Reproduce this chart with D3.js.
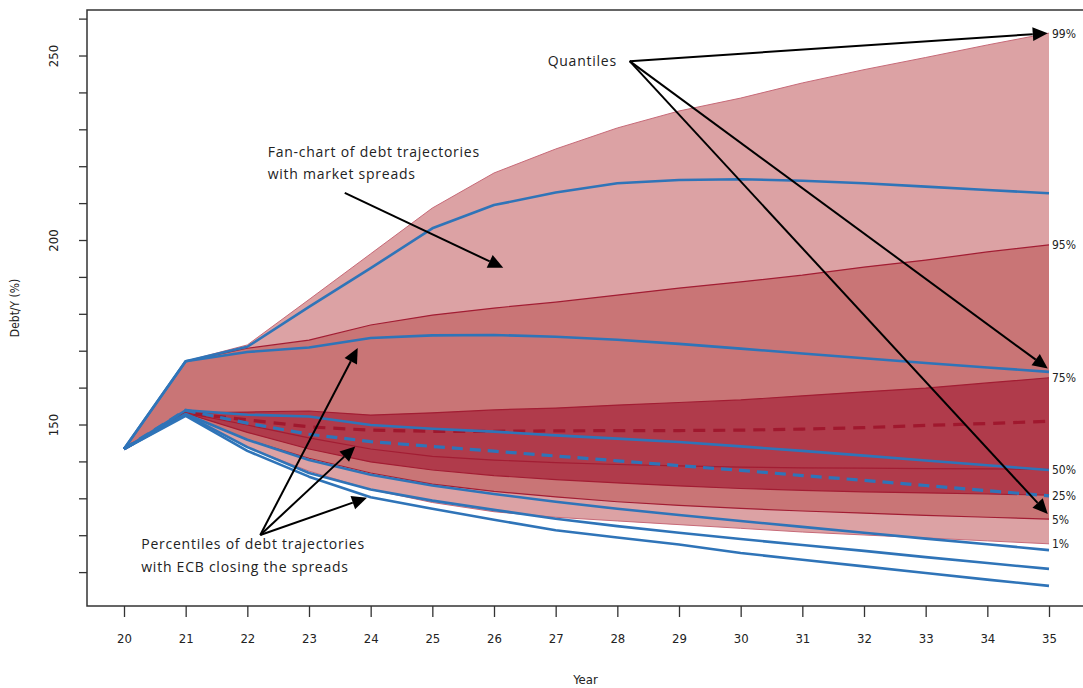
<!DOCTYPE html>
<html>
<head>
<meta charset="utf-8">
<script src="https://cdn.jsdelivr.net/npm/d3@7"></script>
<style>
  html, body { margin: 0; padding: 0; background: #fff; }
  svg { display: block; }
  .tick-lab { font-family: "DejaVu Sans Condensed", "Liberation Sans Narrow", sans-serif; font-stretch: condensed; font-size: 13px; fill: #222; }
  .note { font-family: "Open Sans", "Noto Sans", sans-serif; font-size: 14px; fill: #222; letter-spacing: 0.75px; }
</style>
</head>
<body>
<div id="chart"></div>
<script>
// ---------- data ----------
const years = [20, 21, 22, 23, 24, 25, 26, 27, 28, 29, 30, 31, 32, 33, 34, 35];

// fan chart with market spreads: quantiles
const mkt_q99 = [143.5, 167.3, 171.7, 184.0, 196.4, 208.8, 218.3, 224.8, 230.5, 235.1, 238.6, 242.7, 246.3, 249.6, 253.0, 256.2];
const mkt_q95 = [143.5, 167.3, 170.8, 173.0, 177.1, 179.8, 181.7, 183.3, 185.2, 187.1, 188.8, 190.6, 192.8, 194.7, 196.9, 198.8];
const mkt_q75 = [143.5, 153.3, 153.5, 153.8, 152.7, 153.3, 154.1, 154.6, 155.4, 156.1, 156.8, 157.9, 159.0, 160.0, 161.4, 162.8];
const mkt_q50 = [143.5, 153.3, 150.0, 146.5, 143.5, 141.5, 140.5, 139.8, 139.3, 138.9, 138.6, 138.4, 138.3, 138.2, 138.1, 138.0];
const mkt_q25 = [143.5, 153.2, 148.0, 143.5, 140.0, 137.8, 136.3, 135.2, 134.3, 133.5, 132.8, 132.3, 131.9, 131.6, 131.3, 131.0];
const mkt_q05 = [143.5, 153.0, 146.0, 141.0, 137.0, 134.0, 132.0, 130.5, 129.2, 128.2, 127.4, 126.7, 126.1, 125.5, 125.0, 124.5];
const mkt_q01 = [143.5, 152.5, 144.0, 137.5, 132.5, 129.0, 126.5, 125.0, 124.0, 123.0, 122.0, 121.0, 120.2, 119.4, 118.6, 117.8];
const mkt_mean = [143.5, 153.3, 151.4, 149.5, 148.6, 148.3, 148.3, 148.4, 148.5, 148.5, 148.6, 148.9, 149.3, 149.9, 150.4, 151.0];

// percentiles with ECB closing the spreads
const ecb_q99 = [143.5, 167.3, 171.2, 182.0, 192.5, 203.3, 209.6, 213.0, 215.5, 216.4, 216.6, 216.2, 215.5, 214.6, 213.7, 212.8];
const ecb_q95 = [143.5, 167.3, 169.8, 171.0, 173.6, 174.3, 174.4, 173.9, 173.1, 172.0, 170.7, 169.4, 168.1, 166.8, 165.6, 164.4];
const ecb_q75 = [143.5, 154.0, 152.8, 152.3, 150.0, 149.0, 148.2, 147.2, 146.3, 145.4, 144.2, 143.0, 141.7, 140.4, 139.1, 137.8];
const ecb_mean = [143.5, 154.0, 150.5, 147.5, 145.5, 144.2, 142.9, 141.6, 140.3, 139.0, 137.7, 136.3, 135.0, 133.6, 132.2, 130.8];
const ecb_q25 = [143.5, 153.0, 146.0, 140.5, 136.5, 133.6, 131.3, 129.2, 127.3, 125.6, 124.0, 122.4, 120.8, 119.2, 117.7, 116.1];
const ecb_q05 = [143.5, 152.8, 144.0, 137.0, 132.5, 129.5, 127.0, 124.6, 122.6, 120.8, 119.1, 117.5, 115.9, 114.2, 112.6, 111.0];
const ecb_q01 = [143.5, 152.5, 143.0, 136.0, 130.4, 127.3, 124.3, 121.5, 119.5, 117.6, 115.3, 113.5, 111.7, 109.9, 108.1, 106.4];

const quantLabels = ["99%", "95%", "75%", "50%", "25%", "5%", "1%"];
const yMajor = [150, 200, 250];

// ---------- layout ----------
const W = 1083, H = 688;
const L = 87, T = 10, R = 1086, B = 606;

const svg = d3.select("#chart").append("svg")
  .attr("width", W).attr("height", H);

const defs = svg.append("defs");
defs.append("clipPath").attr("id", "plot")
  .append("rect").attr("x", L).attr("y", T).attr("width", R - L).attr("height", B - T);

const x = d3.scaleLinear().domain([19.4, 35.6]).range([L, R]);
const y = d3.scaleLinear().domain([100.95, 262.47]).range([B, T]);

const pts = arr => arr.map((v, i) => [years[i], v]);
const line = d3.line().x(d => x(d[0])).y(d => y(d[1]));
const band = (lo, hi) => d3.area()
  .x((d, i) => x(years[i]))
  .y0((d, i) => y(lo[i]))
  .y1((d, i) => y(hi[i]))(years);

const gPlot = svg.append("g").attr("clip-path", "url(#plot)");

// ---------- fan bands ----------
const LIGHT = "#dca2a4", MED = "#c97576", DARK = "#b03b4b";
gPlot.append("path").attr("d", band(mkt_q01, mkt_q99)).attr("fill", LIGHT);
gPlot.append("path").attr("d", band(mkt_q05, mkt_q95)).attr("fill", MED);
gPlot.append("path").attr("d", band(mkt_q25, mkt_q75)).attr("fill", DARK);

// quantile edges
[mkt_q99, mkt_q01].forEach(a =>
  gPlot.append("path").attr("d", line(pts(a))).attr("fill", "none")
    .attr("stroke", "#c76a78").attr("stroke-width", 1));
[mkt_q95, mkt_q75, mkt_q50, mkt_q25, mkt_q05].forEach(a =>
  gPlot.append("path").attr("d", line(pts(a))).attr("fill", "none")
    .attr("stroke", "#a21d33").attr("stroke-width", 1.2));

gPlot.append("path").attr("d", line(pts(mkt_mean))).attr("fill", "none")
  .attr("stroke", "#a0182e").attr("stroke-width", 3.2).attr("stroke-dasharray", "12,8");

// ---------- ECB percentiles ----------
const BLUE = "#2f74b8";
[ecb_q99, ecb_q95, ecb_q75, ecb_q25, ecb_q05, ecb_q01].forEach(a =>
  gPlot.append("path").attr("d", line(pts(a))).attr("fill", "none")
    .attr("stroke", BLUE).attr("stroke-width", 2.6).attr("stroke-linejoin", "round"));
gPlot.append("path").attr("d", line(pts(ecb_mean))).attr("fill", "none")
  .attr("stroke", BLUE).attr("stroke-width", 3.2).attr("stroke-dasharray", "11,7");

// ---------- quantile labels at right ----------
const lastEnds = [mkt_q99, mkt_q95, mkt_q75, mkt_q50, mkt_q25, mkt_q05, mkt_q01].map(a => a[a.length - 1]);
svg.append("g").selectAll("text").data(quantLabels).join("text")
  .attr("class", "tick-lab")
  .style("font-size", "12px")
  .attr("x", x(35) + 3)
  .attr("y", (d, i) => y(lastEnds[i]) + 1)
  .attr("dominant-baseline", "middle")
  .text(d => d);

// ---------- annotations ----------
function arrow(g, from, to) {
  const x0 = x(from[0]), y0 = y(from[1]), x1 = x(to[0]), y1 = y(to[1]);
  const a = Math.atan2(y1 - y0, x1 - x0);
  const len = 15, half = 7;
  const bx = x1 - len * Math.cos(a), by = y1 - len * Math.sin(a);
  g.append("line").attr("x1", x0).attr("y1", y0).attr("x2", bx).attr("y2", by)
    .attr("stroke", "#000").attr("stroke-width", 2);
  g.append("path")
    .attr("d", `M${x1},${y1}L${bx + half * Math.sin(a)},${by - half * Math.cos(a)}L${bx - half * Math.sin(a)},${by + half * Math.cos(a)}Z`)
    .attr("fill", "#000");
}
const gAnn = svg.append("g");

const quantFrom = [28.2, 248.6];
arrow(gAnn, quantFrom, [34.98, 256.2]);
arrow(gAnn, quantFrom, [34.98, 165.3]);
arrow(gAnn, quantFrom, [34.98, 125.9]);
gAnn.append("text").attr("class", "note").attr("x", x(26.87)).attr("y", y(247.3)).text("Quantiles");

arrow(gAnn, [23.58, 212.9], [26.15, 192.6]);
const fan = gAnn.append("text").attr("class", "note").attr("x", x(22.33)).attr("y", y(222.6));
fan.append("tspan").text("Fan-chart of debt trajectories");
fan.append("tspan").attr("x", x(22.33)).attr("dy", 22).text("with market spreads");

const pFrom = [22.21, 120.2];
arrow(gAnn, pFrom, [23.79, 170.9]);
arrow(gAnn, pFrom, [23.75, 144.2]);
arrow(gAnn, pFrom, [23.94, 130.3]);
const perc = gAnn.append("text").attr("class", "note").attr("x", x(20.28)).attr("y", y(116.4));
perc.append("tspan").text("Percentiles of debt trajectories");
perc.append("tspan").attr("x", x(20.28)).attr("dy", 23).text("with ECB closing the spreads");

// ---------- frame & axes ----------
svg.append("rect").attr("x", L).attr("y", T).attr("width", R - L).attr("height", B - T)
  .attr("fill", "none").attr("stroke", "#333").attr("stroke-width", 1.5);

const xAxis = svg.append("g").attr("transform", `translate(0,${B})`)
  .call(d3.axisBottom(x).tickValues(years).tickSize(11).tickPadding(17).tickFormat(d3.format("d")));
xAxis.select(".domain").remove();
xAxis.selectAll("line").attr("stroke", "#333").attr("stroke-width", 1.3);
xAxis.selectAll("text").attr("class", "tick-lab");

const yTicks = d3.range(110, 261, 10);
const yAxis = svg.append("g").attr("transform", `translate(${L},0)`)
  .call(d3.axisLeft(y).tickValues(yTicks).tickSize(8).tickPadding(0)
    .tickFormat(d => yMajor.includes(d) ? d : ""));
yAxis.select(".domain").remove();
yAxis.selectAll("line").attr("stroke", "#333").attr("stroke-width", 1.3);
yAxis.selectAll("text").attr("class", "tick-lab")
  .attr("transform", d => `translate(-34,${y(d)}) rotate(-90) translate(0,${-y(d)})`)
  .attr("x", 0).attr("y", d => y(d)).attr("dy", "0.35em").attr("text-anchor", "middle");
yAxis.selectAll(".tick").attr("transform", null);
yAxis.selectAll(".tick line").attr("y1", d => y(d)).attr("y2", d => y(d));

svg.append("text").attr("class", "tick-lab").style("font-size", "12px")
  .attr("transform", `translate(19,${(T + B) / 2}) rotate(-90)`)
  .attr("text-anchor", "middle").text("Debt/Y (%)");

svg.append("text").attr("class", "tick-lab")
  .attr("x", (L + R) / 2 - 1).attr("y", 684).attr("text-anchor", "middle").text("Year");
</script>
</body>
</html>
